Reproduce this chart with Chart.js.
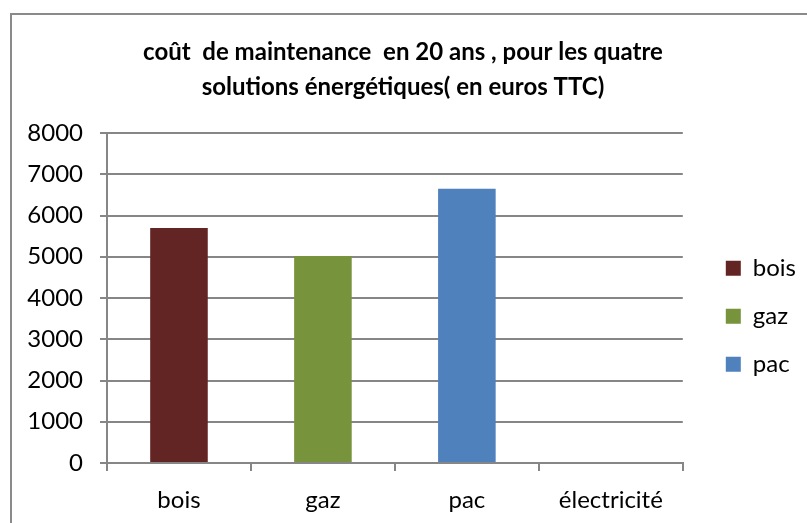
<!DOCTYPE html>
<html lang="fr">
<head>
<meta charset="UTF-8">
<title>coût de maintenance</title>
<script src="https://cdn.jsdelivr.net/npm/chart.js"></script>
<style>
body {margin:0; background:#fff;}
#wrap {position:relative; width:807px; height:523px; overflow:hidden;}
#frame {position:absolute; left:10px; top:13px; width:900px; height:700px; border:2px solid #8a8a8a;}
#wrap canvas {position:absolute; left:0; top:0;}
</style>
</head>
<body>
<div id="wrap">
  <div id="frame"></div>
  <canvas id="myChart" width="807" height="523"></canvas>
</div>
<script>
// données
const categories = ['bois', 'gaz', 'pac', 'électricité'];
const valeurs = [5700, 5020, 6650, 0];
const couleurs = ['#632523', '#77933C', '#4F81BD', '#4F81BD'];
const legendeNoms = ['bois', 'gaz', 'pac'];
const yTicks = [0, 1000, 2000, 3000, 4000, 5000, 6000, 7000, 8000];
const titre = ['coût  de maintenance  en 20 ans , pour les quatre', 'solutions énergétiques( en euros TTC)'];

const gris = '#868686';
Chart.defaults.font.family = 'Lato, "DejaVu Sans", sans-serif';
Chart.defaults.color = '#000';

const ctx = document.getElementById('myChart');
new Chart(ctx, {
  type: 'bar',
  data: {
    labels: categories,
    datasets: [{
      label: 'coût',
      data: valeurs,
      backgroundColor: couleurs,
      barPercentage: 0.4,
      categoryPercentage: 1
    }]
  },
  options: {
    responsive: false,
    animation: false,
    layout: {padding: {left: 0, right: 1, top: 0, bottom: 5}},
    plugins: {
      tooltip: {enabled: false},
      title: {
        display: true,
        text: titre,
        font: {size: 24, weight: 'bold', lineHeight: '35px'},
        padding: {top: 34.5, bottom: 28.5}
      },
      legend: {
        position: 'right',
        align: 'center',
        title: {display: true, text: '', padding: 50},
        labels: {
          boxWidth: 15,
          boxHeight: 15,
          padding: 24,
          font: {size: 24},
          generateLabels: function() {
            return legendeNoms.map(function(nom, i) {
              return {text: nom, fillStyle: couleurs[i], strokeStyle: couleurs[i], lineWidth: 0, index: i};
            });
          }
        }
      }
    },
    scales: {
      x: {
        grid: {offset: true, drawOnChartArea: false, drawTicks: true, tickLength: 8, color: gris, lineWidth: 2},
        border: {display: true, color: gris, width: 2},
        ticks: {font: {size: 24}, padding: 15},
        afterFit: function(s) { s.height = 55; }
      },
      y: {
        min: 0,
        max: 8000,
        afterBuildTicks: function(s) { s.ticks = yTicks.map(function(v) { return {value: v}; }); },
        grid: {color: gris, lineWidth: 2, tickLength: 7},
        border: {display: true, color: gris, width: 2},
        ticks: {font: {size: 24}, padding: 17, callback: function(v) { return String(v); }},
        afterFit: function(s) { s.width = 107; }
      },
      y2: {
        position: 'right',
        display: true,
        grid: {display: false, drawTicks: false},
        border: {display: false},
        ticks: {display: false},
        afterFit: function(s) { s.width = 19; }
      }
    }
  }
});
</script>
</body>
</html>
